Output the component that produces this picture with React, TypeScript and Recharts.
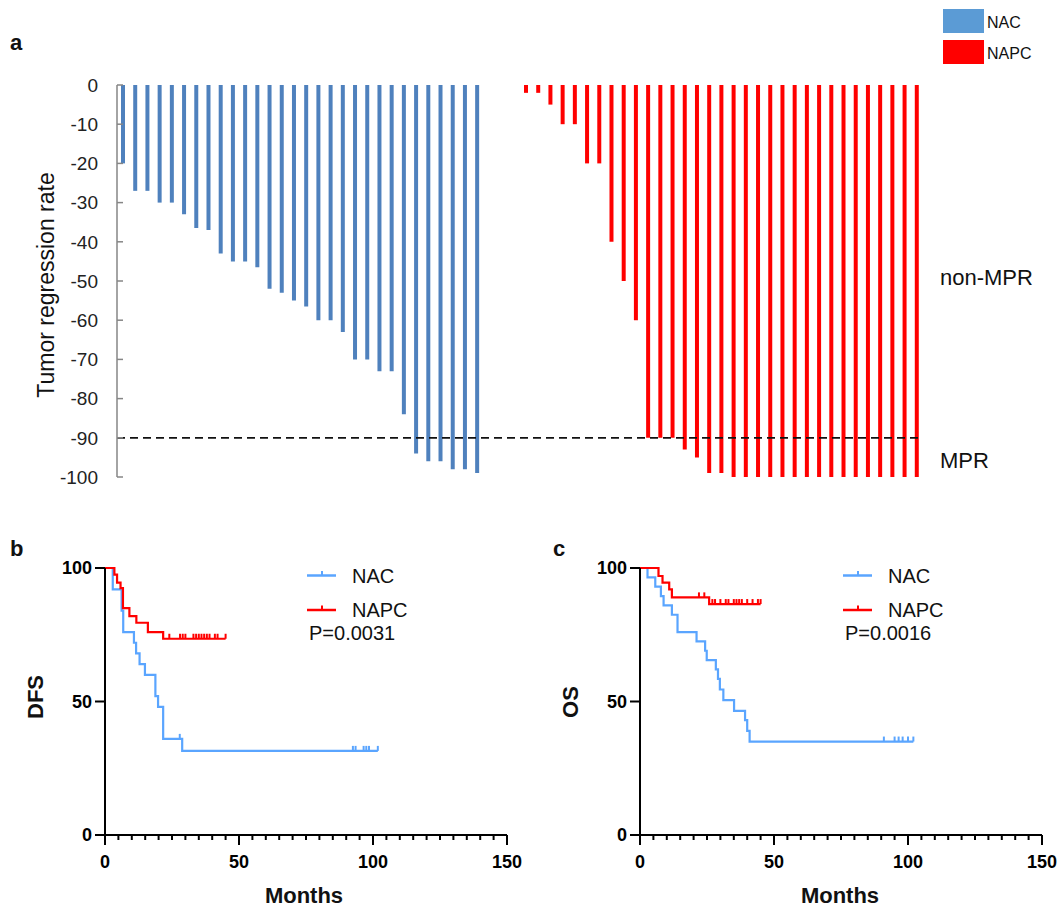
import React from 'react';
import {
    BarChart,
    Bar,
    Cell,
    XAxis,
    YAxis,
    ReferenceLine,
    ComposedChart,
    Line
} from 'recharts';

const FONT = '"Liberation Sans", Arial, sans-serif';
const NAC_BAR = '#4f81bd';
const NAC_KEY = '#5b9bd5';
const RED = '#ff0000';
const KM_BLUE = '#5aa5ff';

// panel a: tumor regression per patient (%)
const nacRegression = [
    -20, -27, -27, -30, -30, -33, -36.5, -37, -43, -45, -45, -46.5, -52, -53, -55,
    -56.5, -60, -60, -63, -70, -70, -73, -73, -84, -94, -96, -96, -98, -98, -99
];
const napcRegression = [
    -2, -2, -5, -10, -10, -20, -20, -40, -50, -60, -90, -90, -90, -93, -95, -99, -99,
    -100, -100, -100, -100, -100, -100, -100, -100, -100, -100, -100, -100, -100, -100, -100, -100
];
const gapSlots = 3;
const regressionTicks = [0, -10, -20, -30, -40, -50, -60, -70, -80, -90, -100];
const mprCutoff = -90;

// panel b: DFS, [month, survival %]
const dfsNacSteps = [
    [0, 100], [2.9, 92], [6.2, 84], [6.8, 76], [10.8, 72], [11.6, 68], [12.9, 64],
    [14.9, 60], [18.8, 52], [19.8, 48], [21.7, 36], [28.8, 31.5]
];
const dfsNacCensor = [[27.9, 36], [92.5, 31.5], [93.5, 31.5], [96.5, 31.5], [97.5, 31.5], [98.5, 31.5], [101.8, 31.5]];
const dfsNapcSteps = [
    [0, 100], [3.5, 97.5], [4.5, 94.5], [5.8, 92.5], [6.7, 85], [9.1, 82], [11.7, 79.5], [16, 76], [21.7, 73.5]
];
const dfsNapcCensor = [
    [24, 73.5], [28, 73.5], [29, 73.5], [30, 73.5], [33, 73.5], [34, 73.5], [35, 73.5], [36, 73.5],
    [37, 73.5], [38, 73.5], [39, 73.5], [41, 73.5], [42, 73.5], [45, 73.5]
];

// panel c: OS, [month, survival %]
const osNacSteps = [
    [0, 100], [2.8, 96.5], [5.7, 93], [7.8, 89.5], [8.8, 86], [11.9, 82.5], [14, 76], [21.1, 72.5],
    [24.3, 69], [24.9, 65.5], [28.3, 62], [29.1, 58.5], [29.8, 54.5], [31.1, 50.5], [35.1, 46.5],
    [39.2, 43], [40, 39], [40.9, 35]
];
const osNacCensor = [[91, 35], [95, 35], [96.5, 35], [98, 35], [100, 35], [102, 35]];
const osNapcSteps = [[0, 100], [6.9, 97], [8.4, 94.5], [10.9, 92], [11.9, 89], [25.8, 86.5]];
const osNapcCensor = [
    [22, 89], [24, 89], [27, 86.5], [28, 86.5], [30, 86.5], [32, 86.5], [33, 86.5], [35, 86.5],
    [36, 86.5], [37, 86.5], [38, 86.5], [40, 86.5], [42, 86.5], [44, 86.5], [45, 86.5]
];

const monthTicks = Array.from({ length: 31 }, (_, i) => i * 5);
const survivalTicks = [0, 50, 100];

const waterfallData = [
    ...nacRegression.map((v, i) => ({ slot: `nac${i}`, value: v, group: 'NAC' })),
    ...Array.from({ length: gapSlots }, (_, i) => ({ slot: `gap${i}`, value: null, group: '' })),
    ...napcRegression.map((v, i) => ({ slot: `napc${i}`, value: v, group: 'NAPC' }))
];

const toCurve = (steps: number[][], censor: number[][]) =>
    [
        ...steps.map(([t, s]) => ({ t, s, c: false })),
        ...censor.map(([t, s]) => ({ t, s, c: true }))
    ].sort((a, b) => a.t - b.t || (a.c ? 1 : -1));

const RegressionTick = (props: any) => {
    const { x, y, payload } = props;
    return (
        <g>
            <line x1={x} x2={x + 6} y1={y} y2={y} stroke="#868686" strokeWidth={1.5} />
            <text x={x - 19} y={y} dy="0.36em" textAnchor="end" fontSize={19} fill="#222" fontFamily={FONT}>
                {payload.value}
            </text>
        </g>
    );
};

const MonthTick = (props: any) => {
    const { x, y, payload } = props;
    const major = payload.value % 50 === 0;
    return (
        <g>
            <line x1={x} x2={x} y1={y} y2={y + (major ? 10 : 5)} stroke="#000" strokeWidth={2} />
            {major && (
                <text x={x} y={y + 33} textAnchor="middle" fontSize={18} fontWeight="bold" fill="#000" fontFamily={FONT}>
                    {payload.value}
                </text>
            )}
        </g>
    );
};

const censorDot = (color: string) => (p: any) => {
    if (!p.payload || !p.payload.c) return <g key={`d${p.index}`} />;
    return (
        <line key={`d${p.index}`} x1={p.cx} x2={p.cx} y1={p.cy} y2={p.cy - 5} stroke={color} strokeWidth={2} />
    );
};

const KMChart = ({ nac, napc }: { nac: any[]; napc: any[] }) => (
    <ComposedChart width={530} height={369} margin={{ top: 28, right: 23, bottom: 0, left: 55 }}>
        <XAxis
            dataKey="t"
            type="number"
            domain={[0, 150]}
            ticks={monthTicks}
            interval={0}
            tickLine={false}
            tickSize={0}
            tickMargin={0}
            tick={<MonthTick />}
            axisLine={{ stroke: '#000', strokeWidth: 2 }}
            height={74}
        />
        <YAxis
            type="number"
            domain={[0, 100]}
            ticks={survivalTicks}
            interval={0}
            width={50}
            tickSize={10}
            tickMargin={3}
            tickLine={{ stroke: '#000', strokeWidth: 2 }}
            axisLine={{ stroke: '#000', strokeWidth: 2 }}
            tick={{ fontSize: 18, fontWeight: 'bold', fill: '#000', fontFamily: FONT }}
        />
        <Line data={nac} dataKey="s" type="stepAfter" stroke={KM_BLUE} strokeWidth={2.2}
            dot={censorDot(KM_BLUE)} activeDot={false} isAnimationActive={false} />
        <Line data={napc} dataKey="s" type="stepAfter" stroke={RED} strokeWidth={2.2}
            dot={censorDot(RED)} activeDot={false} isAnimationActive={false} />
    </ComposedChart>
);

const KMLegend = ({ x, p }: { x: number; p: string }) => (
    <g fontFamily={FONT} fontSize={20} fill="#111">
        <line x1={x} x2={x + 29} y1={575.5} y2={575.5} stroke={KM_BLUE} strokeWidth={2.5} />
        <line x1={x + 15} x2={x + 15} y1={575.5} y2={571} stroke={KM_BLUE} strokeWidth={2} />
        <text x={x + 45} y={583}>NAC</text>
        <line x1={x} x2={x + 29} y1={610} y2={610} stroke={RED} strokeWidth={2.5} />
        <line x1={x + 15} x2={x + 15} y1={610} y2={605.5} stroke={RED} strokeWidth={2} />
        <text x={x + 45} y={617}>NAPC</text>
        <text x={x + 2} y={640}>{p}</text>
    </g>
);

export default function App() {
    return (
        <div style={{ position: 'absolute', left: 0, top: 0, width: 1063, height: 909, background: '#fff', fontFamily: FONT }}>
            <div style={{ position: 'absolute', left: 0, top: 0 }}>
                <BarChart width={1063} height={490} data={waterfallData}
                    margin={{ top: 85, right: 140, bottom: 13, left: 57 }}>
                    <XAxis dataKey="slot" orientation="top" height={0} tick={false} tickLine={false}
                        axisLine={{ stroke: '#a6a6a6', strokeWidth: 1.5 }} />
                    <YAxis type="number" domain={[-100, 0]} ticks={regressionTicks} interval={0} width={60}
                        tickLine={false} tickSize={0} tickMargin={0} tick={<RegressionTick />}
                        axisLine={{ stroke: '#868686', strokeWidth: 1.5 }} />
                    <Bar dataKey="value" barSize={4} isAnimationActive={false}>
                        {waterfallData.map((d) => (
                            <Cell key={d.slot} fill={d.group === 'NAC' ? NAC_BAR : RED} />
                        ))}
                    </Bar>
                    <ReferenceLine y={mprCutoff} stroke="#111" strokeWidth={1.8} strokeDasharray="8 5" />
                </BarChart>
            </div>
            <div style={{ position: 'absolute', left: 0, top: 540 }}>
                <KMChart nac={toCurve(dfsNacSteps, dfsNacCensor)} napc={toCurve(dfsNapcSteps, dfsNapcCensor)} />
            </div>
            <div style={{ position: 'absolute', left: 535, top: 540 }}>
                <KMChart nac={toCurve(osNacSteps, osNacCensor)} napc={toCurve(osNapcSteps, osNapcCensor)} />
            </div>
            <svg width={1063} height={909} style={{ position: 'absolute', left: 0, top: 0, pointerEvents: 'none' }}>
                <g fontFamily={FONT} fill="#111">
                    <text x={10} y={50} fontSize={22} fontWeight="bold">a</text>
                    <text x={10} y={556} fontSize={22} fontWeight="bold">b</text>
                    <text x={553} y={556} fontSize={22} fontWeight="bold">c</text>
                    <text x={54} y={285} fontSize={23} textAnchor="middle" transform="rotate(-90 54 285)">
                        Tumor regression rate
                    </text>
                    <rect x={943} y={9} width={41} height={24} fill={NAC_KEY} />
                    <rect x={943} y={40} width={41} height={24} fill={RED} />
                    <text x={987} y={28} fontSize={16}>NAC</text>
                    <text x={987} y={59} fontSize={16}>NAPC</text>
                    <text x={940} y={285} fontSize={22}>non-MPR</text>
                    <text x={940} y={468} fontSize={22}>MPR</text>
                    <text x={43} y={697} fontSize={22} fontWeight="bold" textAnchor="middle" transform="rotate(-90 43 697)">DFS</text>
                    <text x={578} y={702} fontSize={22} fontWeight="bold" textAnchor="middle" transform="rotate(-90 578 702)">OS</text>
                    <text x={304} y={903} fontSize={22} fontWeight="bold" textAnchor="middle">Months</text>
                    <text x={840} y={903} fontSize={22} fontWeight="bold" textAnchor="middle">Months</text>
                </g>
                <KMLegend x={307} p="P=0.0031" />
                <KMLegend x={843} p="P=0.0016" />
            </svg>
        </div>
    );
}
